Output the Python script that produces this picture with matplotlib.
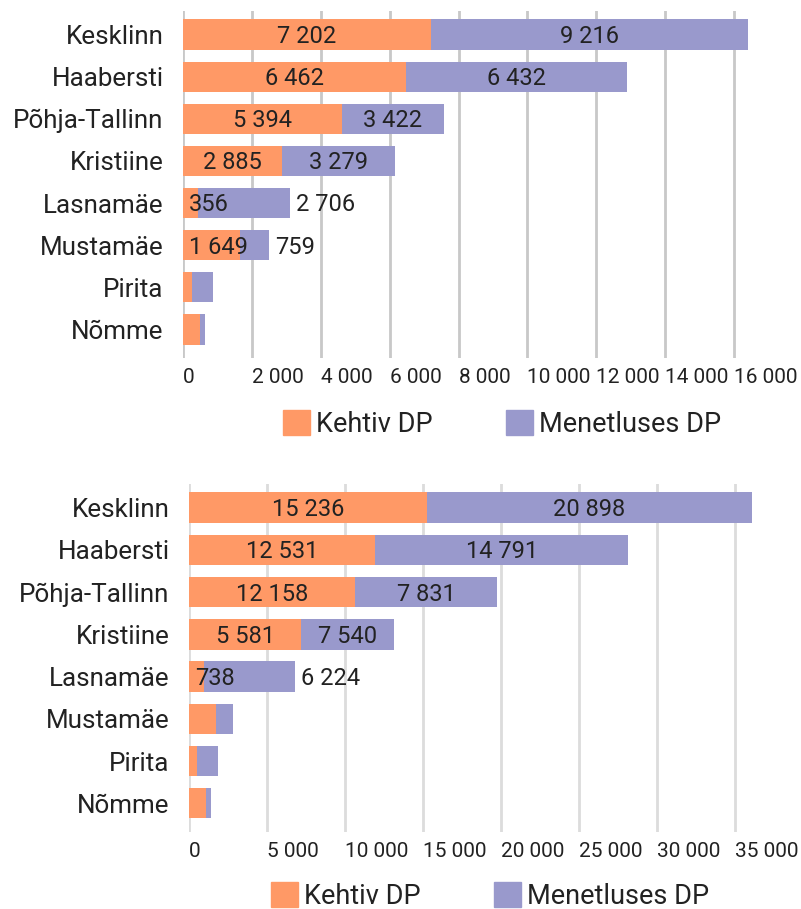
import matplotlib
matplotlib.use('Agg')
import matplotlib.pyplot as plt
from matplotlib.ticker import FuncFormatter
from matplotlib.patches import Patch
from matplotlib.transforms import offset_copy

plt.rcParams['font.family'] = ['Roboto', 'DejaVu Sans']

ORANGE = '#ff9966'
PURPLE = '#9999cc'
TEXT = '#222222'

districts = ['Kesklinn', 'Haabersti', 'Põhja-Tallinn', 'Kristiine',
             'Lasnamäe', 'Mustamäe', 'Pirita', 'Nõmme']

# upper chart - bar lengths as drawn
top_kehtiv = [7202, 6462, 4610, 2885, 430, 1649, 260, 490]
top_menetluses = [9216, 6432, 2955, 3279, 2680, 851, 610, 150]
# numbers written on the bars (None = no number shown)
top_kehtiv_labels = [7202, 6462, 5394, 2885, 356, 1649, None, None]
top_menetluses_labels = [9216, 6432, 3422, 3279, 2706, 759, None, None]
top_ticks = [0, 2000, 4000, 6000, 8000, 10000, 12000, 14000, 16000]

# lower chart
bottom_kehtiv = [15236, 11955, 10670, 7210, 930, 1700, 545, 1080]
bottom_menetluses = [20898, 16200, 9100, 5940, 5850, 1130, 1345, 300]
bottom_kehtiv_labels = [15236, 12531, 12158, 5581, 738, None, None, None]
bottom_menetluses_labels = [20898, 14791, 7831, 7540, 6224, None, None, None]
bottom_ticks = [0, 5000, 10000, 15000, 20000, 25000, 30000, 35000]

legend_names = ['Kehtiv DP', 'Menetluses DP']


def fmt(v):
    return format(int(v), ',').replace(',', ' ')


W, H = 801, 909
fig = plt.figure(figsize=(W / 100, H / 100), dpi=100)
renderer = fig.canvas.get_renderer()


def draw_chart(box, kehtiv, menetluses, k_labels, m_labels, ticks, xmax, grid_color):
    left, top, right, bottom = box
    ax = fig.add_axes([left / W, 1 - bottom / H, (right - left) / W, (bottom - top) / H])
    y = list(range(len(districts)))

    ax.barh(y, kehtiv, height=0.72, color=ORANGE, zorder=2)
    ax.barh(y, menetluses, left=kehtiv, height=0.72, color=PURPLE, zorder=2)

    ax.set_xlim(0, xmax)
    ax.set_ylim(len(districts) - 0.32, -0.56)
    ax.set_xticks(ticks)
    ax.xaxis.set_major_formatter(FuncFormatter(lambda v, p: fmt(v)))
    ax.set_yticks(y)
    ax.set_yticklabels(districts)
    ax.tick_params(axis='x', length=0, pad=7, labelsize=15, labelcolor=TEXT)
    ax.tick_params(axis='y', length=0, pad=14, labelsize=18.7, labelcolor=TEXT)
    plt.setp(ax.get_xticklabels(), ha='left')
    ax.grid(axis='x', color=grid_color, linewidth=2.0, zorder=0)
    ax.set_axisbelow(True)
    for s in ax.spines.values():
        s.set_visible(False)

    # numbers on the bars, shifted so the digits sit in the middle of the bar
    fs = 17
    trans = offset_copy(ax.transData, fig=fig, y=-fs * 0.711 / 2, units='points')
    per_unit = ax.bbox.width / xmax
    pad = 6 / per_unit
    for i in y:
        if k_labels[i] is None:
            continue
        a = kehtiv[i]
        b = menetluses[i]
        t1 = ax.text(a / 2, i, fmt(k_labels[i]), ha='center', va='baseline',
                     fontsize=fs, color=TEXT, transform=trans, zorder=3)
        w1 = t1.get_window_extent(renderer).width / per_unit
        if w1 <= a:
            o1 = a / 2 + w1 / 2
        else:
            t1.set_x(pad)
            t1.set_ha('left')
            o1 = pad + w1
        if m_labels[i] is None:
            continue
        c = a + b / 2
        t2 = ax.text(c, i, fmt(m_labels[i]), ha='center', va='baseline',
                     fontsize=fs, color=TEXT, transform=trans, zorder=3)
        w2 = t2.get_window_extent(renderer).width / per_unit
        if w2 > b or c - w2 / 2 < o1:
            t2.set_x(a + b + pad)
            t2.set_ha('left')
    return ax


draw_chart((183, 11, 768.5, 358), top_kehtiv, top_menetluses,
           top_kehtiv_labels, top_menetluses_labels, top_ticks, 17000, '#c8c8c8')
draw_chart((189, 484, 766, 832), bottom_kehtiv, bottom_menetluses,
           bottom_kehtiv_labels, bottom_menetluses_labels, bottom_ticks, 37000, '#dcdcdc')

handles = [Patch(color=ORANGE, label=legend_names[0]),
           Patch(color=PURPLE, label=legend_names[1])]
for cx, cy in [(502, 424), (490, 896)]:
    leg = fig.legend(handles=handles, loc='center', bbox_to_anchor=(cx / W, 1 - cy / H),
                     ncol=2, frameon=False, fontsize=19.5, handlelength=1.0,
                     handleheight=1.0, handletextpad=0.22, columnspacing=2.7)
    for t in leg.get_texts():
        t.set_color(TEXT)

fig.savefig('out.png', dpi=100)
